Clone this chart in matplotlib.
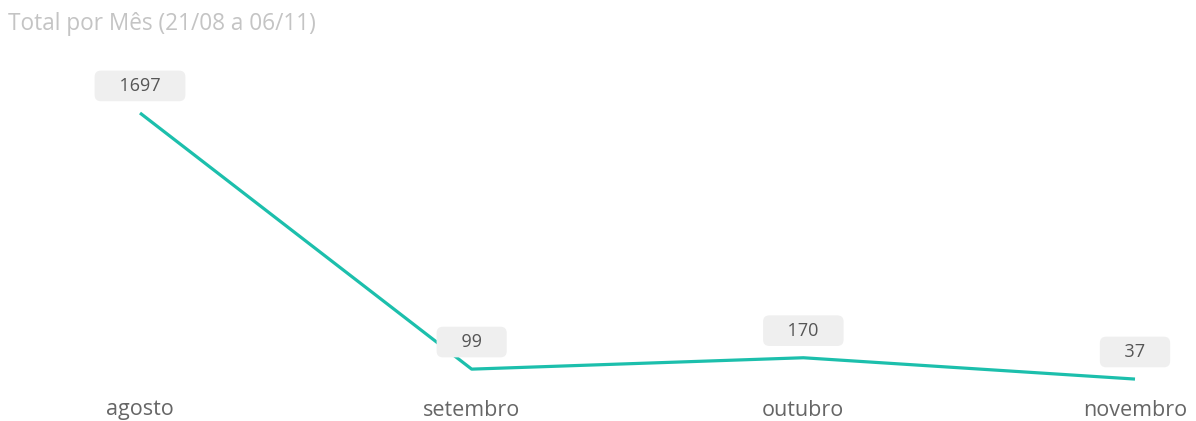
import matplotlib
matplotlib.use("Agg")
import matplotlib.pyplot as plt

meses = ["agosto", "setembro", "outubro", "novembro"]
totais = [1697, 99, 170, 37]
titulo = "Total por Mês (21/08 a 06/11)"

plt.rcParams["font.family"] = ["Open Sans", "DejaVu Sans"]

fig = plt.figure(figsize=(11.96, 4.21), dpi=100)
ax = fig.add_axes([140 / 1196, 1 - 385 / 421, (1135 - 140) / 1196, (385 - 113) / 421])
ax.set_xlim(0, len(meses) - 1)
ax.set_ylim(0, max(totais))
ax.axis("off")

x = list(range(len(meses)))
ax.plot(x, totais, color="#1cbfac", linewidth=2.3, solid_capstyle="butt", clip_on=False)

# rótulos de valor em caixinhas cinza acima de cada ponto
for xi, v in zip(x, totais):
    ax.annotate(f"    {v}    ", (xi, v), xytext=(0, 19.5), textcoords="offset points",
                ha="center", va="center", fontsize=13, color="#555555",
                bbox=dict(boxstyle="round,pad=0.35,rounding_size=0.35",
                          fc="#efefef", ec="none"),
                annotation_clip=False)

for xi, m in zip(x, meses):
    ax.annotate(m, (xi, 0), xytext=(0, -18), textcoords="offset points",
                ha="center", va="center", fontsize=15.5, color="#666666",
                annotation_clip=False)

fig.text(8 / 1196, 1 - 24 / 421, titulo, ha="left", va="center",
         fontsize=16.3, color="#c4c4c4")

fig.savefig("out.png", dpi=100)
